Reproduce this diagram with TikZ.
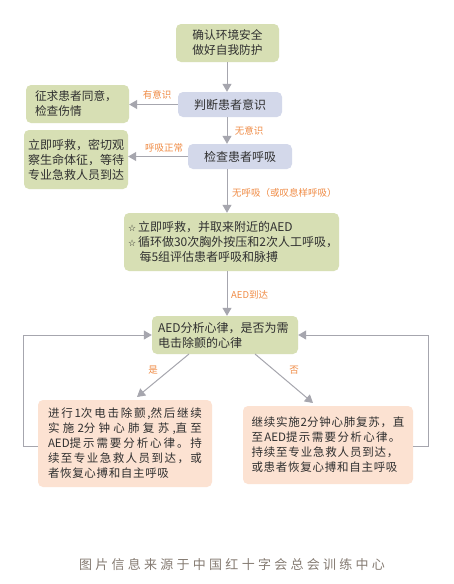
\documentclass[tikz,border=0pt]{standalone}
\usepackage{fontspec}
\setmainfont{Noto Sans CJK SC}
\newfontfamily\symfont{DejaVu Sans}
\usetikzlibrary{arrows.meta}
\definecolor{gbox}{HTML}{D7DFB4}
\definecolor{bbox}{HTML}{D3D8EA}
\definecolor{pbox}{HTML}{FCE2D2}
\definecolor{lbl}{HTML}{F08C46}
\definecolor{txt}{HTML}{303030}
\definecolor{arr}{HTML}{A6A6AE}
\definecolor{capc}{HTML}{857B72}
\newcommand\spreadline[2]{\makebox[#1][s]{\spaceskip=0pt plus 1fil\relax #2}}
\tikzset{
  boxbase/.style={rounded corners=5pt, inner sep=0pt, text=txt, font=\fontsize{12}{15}\selectfont, align=center},
  gnode/.style={boxbase, fill=gbox},
  bnode/.style={boxbase, fill=bbox},
  pnode/.style={boxbase, fill=pbox, align=left, font=\fontsize{11.5}{15}\selectfont},
  lab/.style={text=lbl, font=\fontsize{9.5}{11}\selectfont, inner sep=0pt},
  conn/.style={draw=arr, line width=1pt, -{Triangle[length=8pt,width=9pt]}},
}
\begin{document}
\begin{tikzpicture}[x=1pt,y=-1pt]
\useasboundingbox (0,0) rectangle (454,584);
\fill[white] (0,0) rectangle (454,584);

\node[gnode, minimum width=103pt, minimum height=38pt, font=\fontsize{11.7}{15}\selectfont] (b1) at (227.5,43) {确认环境安全\\做好自我防护};
\node[bnode, minimum width=104pt, minimum height=25pt] (b2) at (230,104.5) {判断患者意识};
\node[gnode, minimum width=103pt, minimum height=38pt, align=left, text width=85pt, font=\fontsize{11.7}{15}\selectfont] (g2) at (77.5,104) {征求患者同意，\\检查伤情};
\node[bnode, minimum width=104pt, minimum height=25pt] (b3) at (240,156.5) {检查患者呼吸};
\node[gnode, minimum width=104pt, minimum height=59pt, align=left, text width=96pt] (g3) at (76,159.5) {立即呼救，密切观\\察生命体征，等待\\专业急救人员到达};
\node[gnode, minimum width=215pt, minimum height=58pt, align=left, text width=207pt] (b4) at (231.5,242) {{\symfont\fontsize{9}{15}\selectfont ☆}\,立即呼救，并取来附近的AED\\{\symfont\fontsize{9}{15}\selectfont ☆}\,循环做30次胸外按压和2次人工呼吸，\\\hspace*{11.5pt}每5组评估患者呼吸和脉搏};
\node[gnode, minimum width=146pt, minimum height=38pt, align=left, text width=134pt] (b5) at (225,335) {AED分析心律，是否为需\\电击除颤的心律};
\node[pnode, minimum width=174pt, minimum height=87pt, text width=154pt] (p1) at (125,443.5) {\spreadline{154pt}{进 行 1次 电 击 除 颤 ,然 后 继 续}\\\spreadline{154pt}{实 施 2分 钟 心 肺 复 苏 ,直 至}\\\spreadline{154pt}{AED提 示 需 要 分 析 心 律 。 持}\\\spreadline{154pt}{续 至 专 业 急 救 人 员 到 达 ， 或}\\\spreadline{121pt}{者 恢 复 心 搏 和 自 主 呼 吸}};
\node[pnode, minimum width=170pt, minimum height=78pt, text width=153pt] (p2) at (328,445) {\spreadline{153pt}{继 续 实 施 2分 钟 心 肺 复 苏 ， 直}\\\spreadline{149pt}{至 AED提 示 需 要 分 析 心 律 。}\\\spreadline{147pt}{持 续 至 专 业 急 救 人 员 到 达 ，}\\\spreadline{146pt}{或 患 者 恢 复 心 搏 和 自 主 呼 吸}};

\coordinate (xa) at (227,0);
\draw[conn] (b1.south -| xa) -- (b2.north -| xa);
\draw[conn] (b2.south -| xa) -- (b3.north -| xa);
\draw[conn] (b3.south -| xa) -- (b4.north -| xa);
\draw[conn] (b4.south -| xa) -- (b5.north -| xa);
\draw[conn] (b2.west) -- (g2.east |- b2.west);
\draw[conn] (b3.west) -- (g3.east |- b3.west);

\coordinate (d1) at (189,354);
\coordinate (d1e) at (137,397);
\coordinate (d2) at (255,354);
\coordinate (d2e) at (313,403);
\draw[conn] (d1) -- (d1e);
\draw[conn] (d2) -- (d2e);

\coordinate (lx) at (23,446);
\coordinate (rx) at (428,446);
\draw[conn] (p1.west |- lx) -- (lx) -- (lx |- b5.west) -- (b5.west);
\draw[conn] (p2.east |- rx) -- (rx) -- (rx |- b5.east) -- (b5.east);

\node[lab] (l1) at (157,95) {有意识};
\node[lab] (l2) at (249,131) {无意识};
\node[lab] (l3) at (164,148) {呼吸正常};
\node[lab, anchor=west] (l4) at (232,193) {无呼吸（或叹息样呼吸）};
\node[lab, anchor=west] (l5) at (231,295) {AED到达};
\node[lab] (l6) at (153,370) {是};
\node[lab] (l7) at (294,370) {否};

\node[text=capc, font=\fontsize{13}{14}\selectfont, inner sep=0pt] (cap) at (232,565) {\spreadline{306pt}{图 片 信 息 来 源 于 中 国 红 十 字 会 总 会 训 练 中 心}};
\end{tikzpicture}
\end{document}
